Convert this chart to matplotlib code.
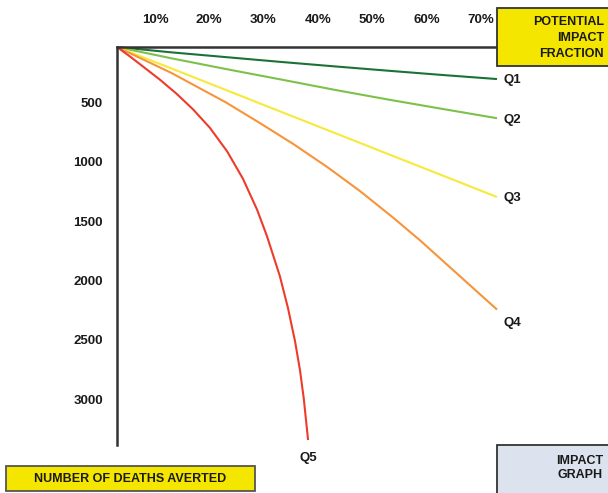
import numpy as np
import matplotlib
matplotlib.use("Agg")
import matplotlib.pyplot as plt
import matplotlib.transforms as mtransforms
from matplotlib.patches import Rectangle

plt.rcParams['font.family'] = ['Liberation Sans', 'DejaVu Sans']

# ------------------------------------------------------------
# data (impact fraction vs deaths averted)
x_q = [0.0, 0.1, 0.2, 0.3, 0.4, 0.5, 0.6, 0.7]
q1 = [0, 45, 85, 125, 163, 200, 236, 270]
q2 = [0, 95, 185, 272, 360, 443, 522, 600]
q3 = [0, 180, 361, 542, 722, 903, 1083, 1264]

x_q4 = [0.0, 0.1, 0.2, 0.263, 0.324, 0.387, 0.448, 0.508, 0.558, 0.7]
q4 = [0, 218, 465, 640, 815, 1010, 1215, 1435, 1628, 2212]

x_q5 = [0.0, 0.024, 0.048, 0.079, 0.110, 0.140, 0.171, 0.203, 0.232, 0.258,
        0.276, 0.300, 0.315, 0.328, 0.337, 0.344, 0.352]
q5 = [0, 80, 165, 275, 395, 525, 680, 880, 1110, 1370,
      1590, 1930, 2200, 2480, 2720, 2960, 3311]

series_names = ['Q1', 'Q2', 'Q3', 'Q4', 'Q5']
colors = ['#1c7236', '#7cc24a', '#f7e93a', '#f7943a', '#ee3b2a']

x_ticks = [0.1, 0.2, 0.3, 0.4, 0.5, 0.6, 0.7]
x_ticklabels = ['10%', '20%', '30%', '40%', '50%', '60%', '70%']
y_ticks = [500, 1000, 1500, 2000, 2500, 3000]

# ------------------------------------------------------------
fig = plt.figure(figsize=(6.08, 4.93), dpi=100)
ax = fig.add_axes([117 / 608, 1 - 445 / 493, 380 / 608, 398 / 493])
ax.set_xlim(0, 0.7)
ax.set_ylim(3353, 0)

xs = [x_q, x_q, x_q, x_q4, x_q5]
ys = [q1, q2, q3, q4, q5]
for xx, yy, c in zip(xs, ys, colors):
    ax.plot(xx, yy, color=c, lw=1.5, clip_on=False, solid_capstyle='butt',
            solid_joinstyle='round')

# end labels
for xx, yy, name in zip(xs[:4], ys[:4], series_names[:4]):
    ax.annotate(name, (xx[-1], yy[-1]), xytext=(5, -1 if name != 'Q4' else -10),
                textcoords='offset points', ha='left', va='center',
                fontsize=9.5, fontweight='bold', color='#1a1a1a',
                annotation_clip=False)
ax.annotate('Q5', (x_q5[-1], q5[-1]), xytext=(0, -13), textcoords='offset points',
            ha='center', va='center', fontsize=9.5, fontweight='bold',
            color='#1a1a1a', annotation_clip=False)

# spines
for s in ['right', 'bottom']:
    ax.spines[s].set_visible(False)
for s in ['top', 'left']:
    ax.spines[s].set_color('#333333')
    ax.spines[s].set_linewidth(1.8)

ax.xaxis.tick_top()
ax.set_xticks(x_ticks)
ax.set_xticklabels(x_ticklabels, ha='right')
ax.set_yticks(y_ticks)
ax.set_yticklabels([str(v) for v in y_ticks])
ax.tick_params(axis='x', length=0, pad=15, labelsize=9.5, labelcolor='#1a1a1a')
ax.tick_params(axis='y', length=0, pad=10, labelsize=9.5, labelcolor='#1a1a1a')
for lab in ax.get_xticklabels() + ax.get_yticklabels():
    lab.set_fontweight('bold')
xshift = mtransforms.ScaledTranslation(-3 / 100, 0, fig.dpi_scale_trans)
for lab in ax.get_xticklabels():
    lab.set_transform(lab.get_transform() + xshift)
yshift = mtransforms.ScaledTranslation(0, 4 / 100, fig.dpi_scale_trans)
for lab in ax.get_yticklabels():
    lab.set_transform(lab.get_transform() + yshift)

# boxes
def px_box(x0, y0, x1, y1, fc, ec):
    r = Rectangle((x0 / 608, 1 - y1 / 493), (x1 - x0) / 608, (y1 - y0) / 493,
                  transform=fig.transFigure, facecolor=fc, edgecolor=ec,
                  lw=1.3, zorder=5)
    fig.add_artist(r)

px_box(497, 8, 612, 66, '#f5e600', '#333333')
fig.text(604 / 608, 1 - 38 / 493, 'POTENTIAL\nIMPACT\nFRACTION', ha='right',
         va='center', fontsize=9, fontweight='bold', linespacing=1.4,
         color='#1a1a1a', zorder=6)

px_box(6, 466, 255, 491, '#f5e600', '#555555')
fig.text(130 / 608, 1 - 478.5 / 493, 'NUMBER OF DEATHS AVERTED', ha='center',
         va='center', fontsize=9, fontweight='bold', color='#1a1a1a', zorder=6)

px_box(497, 445, 612, 497, '#dce3ee', '#333333')
fig.text(603 / 608, 1 - 468 / 493, 'IMPACT\nGRAPH', ha='right', va='center',
         fontsize=9, fontweight='bold', linespacing=1.3, color='#1a1a1a',
         zorder=6)

fig.savefig('out.png', dpi=100)
